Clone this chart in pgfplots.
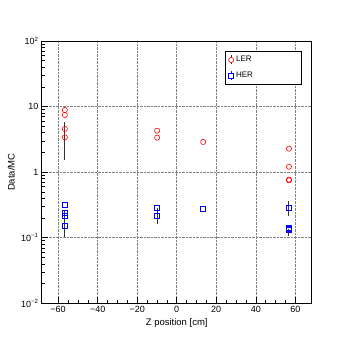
\documentclass[border=0pt]{standalone}
\usepackage{fontspec}
\setmainfont{Liberation Sans}
\usepackage{pgfplots}
\pgfplotsset{compat=1.18}

\begin{document}
\begin{tikzpicture}[x=1pt,y=1pt]
\path (0,0) rectangle (354,345);
\begin{axis}[at={(41.7pt,41.7pt)},anchor=south west,scale only axis,
  width=270pt,height=262.3pt,
  xmin=-68.3,xmax=68.3,ymode=log,ymin=0.01,ymax=100,
  axis line style={line width=0.8pt},
  tick pos=left,tick align=inside,
  major tick length=6pt,minor tick length=3pt,
  every tick/.style={black,line width=0.5pt},
  xtick={-60,-40,-20,0,20,40,60},
  xticklabels={−60,−40,−20,0,20,40,60},
  minor x tick num=3,
  ytick={0.01,0.1,1,10,100},
  yticklabels={10\textsuperscript{−2},10\textsuperscript{−1},1,10,10\textsuperscript{2}},
  minor ytick={0.02,0.03,0.04,0.05,0.06,0.07,0.08,0.09,0.2,0.3,0.4,0.5,0.6,0.7,0.8,0.9,2,3,4,5,6,7,8,9,20,30,40,50,60,70,80,90},
  grid=major,
  major grid style={densely dotted,black!50,line width=0.5pt},
  tick label style={font=\fontsize{9}{10}\selectfont},
  xticklabel style={anchor=north,inner sep=0pt,yshift=-3pt},
  yticklabel style={anchor=east,inner sep=0pt,xshift=-3pt},
  xlabel={Z position [cm]},ylabel={Data/MC},
  label style={font=\fontsize{9.5}{11}\selectfont},
  xlabel style={at={(axis description cs:0.5,-0.075)},anchor=center},
  ylabel style={at={(axis description cs:-0.113,0.5)},anchor=center},
  legend style={at={(axis description cs:0.679,0.961)},anchor=north west,
    draw=black,line width=0.5pt,fill=white,inner xsep=3pt,inner ysep=3pt,
    font=\fontsize{8}{9}\selectfont,row sep=5pt,legend cell align=left},
  error bars/error bar style={black!80,line width=1pt},
  error bars/error mark=none,
]
% LER
\addplot[forget plot,only marks,mark=o,mark size=2.6pt,red,mark options={line width=0.6pt},
  error bars/.cd,y dir=both,y explicit] coordinates {
  (-56.6,8.87) (-56.6,7.45) (-56.6,4.56)
  (-56.6,3.40) += (0,2.37) -= (0,1.87)
  (-9.9,4.29) (-9.9,3.36) (13.4,2.89)
  (56.8,2.28) (56.8,1.21) (56.8,0.77) (56.8,0.75)
};
% HER
\addplot[forget plot,only marks,mark=square,mark size=2.5pt,blue,mark options={line width=0.6pt},
  error bars/.cd,y dir=both,y explicit] coordinates {
  (-56.6,0.316) (-56.6,0.241) (-56.6,0.215)
  (-56.6,0.150) += (0,0.109) -= (0,0.046)
  (-9.9,0.288)
  (-9.9,0.213) += (0,0.075) -= (0,0.052)
  (13.4,0.272)
  (56.8,0.281) += (0,0.083) -= (0,0.064)
  (56.8,0.140) (56.8,0.135)
  (56.8,0.131) += (0,0.005) -= (0,0.025)
};
\addlegendimage{legend image code/.code={
  \draw[black!80,line width=1pt](0pt,-4.5pt)--(0pt,4.5pt);
  \draw[red,line width=0.6pt,fill=white](0pt,0pt) circle (2.6pt);}}
\addlegendentry{\makebox[60pt][l]{LER}}
\addlegendimage{legend image code/.code={
  \draw[black!80,line width=1pt](0pt,-4.5pt)--(0pt,4.5pt);
  \draw[blue,line width=0.6pt,fill=white](-2.5pt,-2.5pt) rectangle (2.5pt,2.5pt);}}
\addlegendentry{\makebox[60pt][l]{HER}}
\end{axis}
\end{tikzpicture}
\end{document}
